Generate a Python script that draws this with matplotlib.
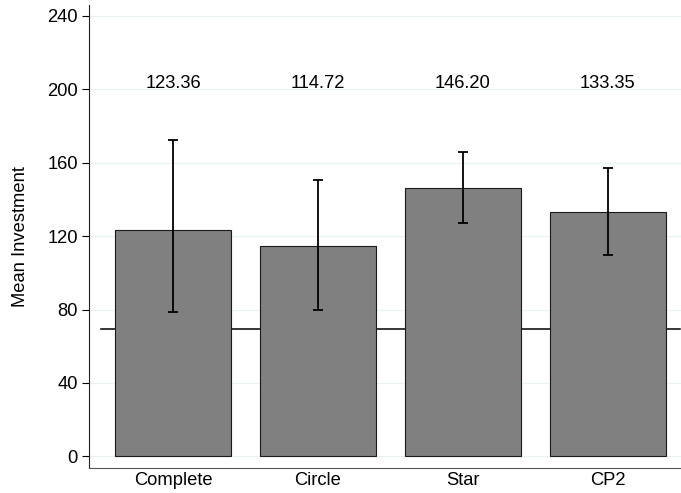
import numpy as np
import matplotlib
matplotlib.use("Agg")
import matplotlib.pyplot as plt

plt.rcParams['font.family'] = ['Liberation Sans', 'DejaVu Sans']

# group means with 95% confidence bounds
groups = ["Complete", "Circle", "Star", "CP2"]
means = [123.36, 114.72, 146.20, 133.35]
ci_low = [78.7, 79.8, 127.3, 109.8]
ci_high = [172.1, 150.7, 165.6, 157.1]
baseline = 69.5
yticks = [0, 40, 80, 120, 160, 200, 240]

my_dpi = 100
fs = 13.2
fig = plt.figure(figsize=(681 / my_dpi, 493 / my_dpi), dpi=my_dpi)
ax = fig.add_axes([89 / 681, 25.3 / 493, 603 / 681, 463.0 / 493])

x = np.arange(len(groups))
means = np.array(means)
err = np.vstack([means - np.array(ci_low), np.array(ci_high) - means])

# light grid behind everything
for t in yticks:
    ax.axhline(t, color='#eaf2f3', lw=0.9, zorder=0)

# reference line sits under the bars
ax.plot([-0.5, 3.5], [baseline, baseline], color='black', lw=1.1, zorder=1)

ax.bar(x, means, width=0.8, color='#808080', edgecolor='#1a1a1a', lw=0.8, zorder=2)
ax.errorbar(x, means, yerr=err, fmt='none', ecolor='black', elinewidth=1.3,
            capsize=3.4, capthick=1.3, zorder=3)

for xi, m in zip(x, means):
    ax.text(xi, 200.9, f"{m:.2f}", ha='center', va='baseline', fontsize=fs)

ax.set_xlim(-0.58, 3.58)
ax.set_ylim(-6.2, 246.1)
ax.set_yticks(yticks)
ax.set_xticks(x)
ax.set_xticklabels(groups)
ax.tick_params(axis='x', length=0, pad=3, labelsize=fs)
ax.tick_params(axis='y', length=5, width=0.8, pad=3, labelsize=fs)

ax.set_ylabel("Mean Investment", fontsize=fs)
ax.yaxis.set_label_coords(-0.100, 0.5)

ax.spines['top'].set_visible(False)
ax.spines['right'].set_visible(False)
ax.spines['left'].set_linewidth(0.8)
ax.spines['left'].set_color('#222222')
ax.spines['bottom'].set_linewidth(0.8)
ax.spines['bottom'].set_color('#555555')

plt.savefig('out.png', dpi=my_dpi)
